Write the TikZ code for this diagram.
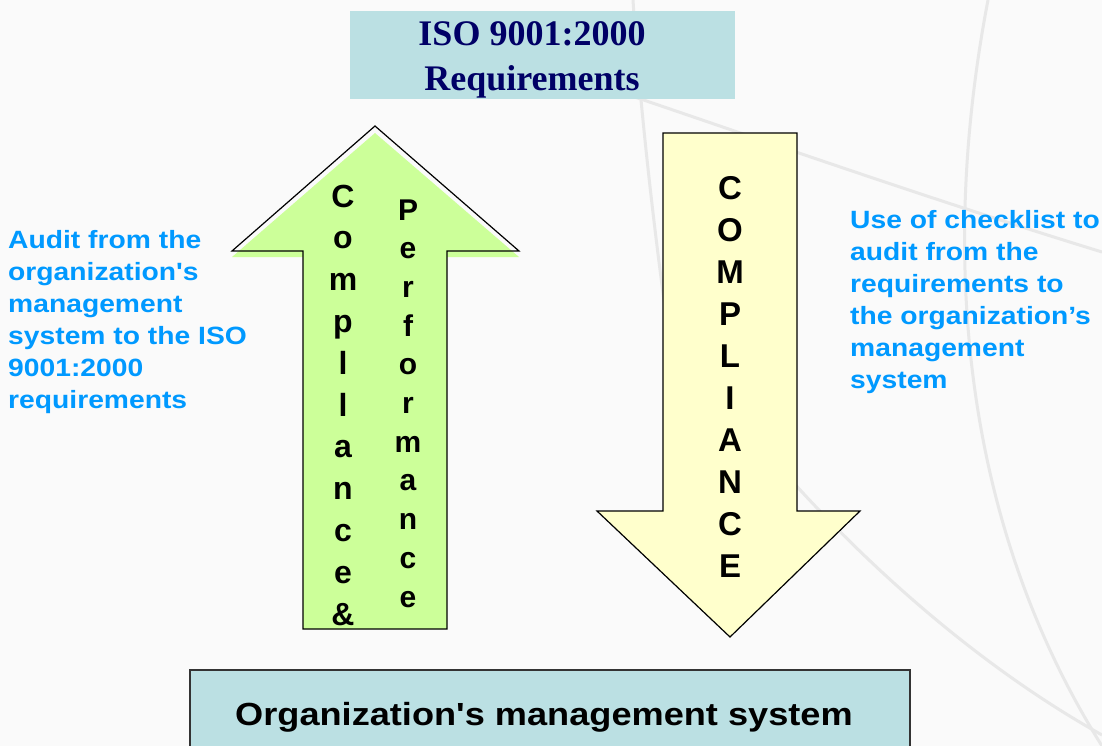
\documentclass[tikz,border=0pt]{standalone}
\usepackage{fontspec}
\setmainfont{Liberation Serif}
\setsansfont{Liberation Sans}
\usepackage{tikz}
\definecolor{bgcol}{HTML}{FAFAFA}
\definecolor{swirl}{HTML}{E8E8E8}
\definecolor{boxcyan}{HTML}{BBE0E3}
\definecolor{navy}{HTML}{000066}
\definecolor{skyblue}{HTML}{0099FF}
\definecolor{lime}{HTML}{CCFF99}
\definecolor{cream}{HTML}{FFFFCC}

\begin{document}
\begin{tikzpicture}[x = 1pt, y = -1pt,
                    note/.style = {align=left, anchor=base west, inner sep=0, xscale=1.13,
                                   text=skyblue, font=\sffamily\bfseries\fontsize{25}{32}\selectfont},
                    letters/.style = {align=center, anchor=base, inner sep=0,
                                      font=\sffamily\bfseries\fontsize{32}{41.8}\selectfont}]

\useasboundingbox (0,0) rectangle (1102,746);
\fill [bgcol] (0,0) rectangle (1102,746);

%background swirls
\draw [swirl, line width=3] (633,0) .. controls (638,80) and (650,200) .. (668,330);
\draw [swirl, line width=3] (560,72) .. controls (700,118) and (900,190) .. (1102,252);
\draw [swirl, line width=3] (988,0) .. controls (940,250) and (960,520) .. (1102,746);
\draw [swirl, line width=3] (740,420) .. controls (820,520) and (950,650) .. (1102,735);

%top box
\fill [boxcyan] (350,11) rectangle (735,99);
\node [align=center, inner sep=0, text=navy, font=\rmfamily\bfseries\fontsize{36}{45}\selectfont]
      (req) at (532,59.5) {ISO 9001:2000\\Requirements};

%up arrow
\fill [lime] (303,629) -- (303,257) -- (232,257) -- (375,133)
          -- (519,257) -- (447,257) -- (447,629) -- cycle;
\draw [black, line width=1.2] (303,629) -- (303,251) -- (232,251) -- (375,126)
          -- (519,251) -- (447,251) -- (447,629) -- cycle;
%last line is the base
\node [letters] (comp) at (343,625) {C\\o\\m\\p\\l\\l\\a\\n\\c\\e\\\&};
\node [letters, font=\sffamily\bfseries\fontsize{30}{38.7}\selectfont]
      (perf) at (408,607) {P\\e\\r\\f\\o\\r\\m\\a\\n\\c\\e};

%down arrow
\filldraw [fill=cream, draw=black, line width=1.2] (663,133) -- (797,133) -- (797,511) -- (860,511)
          -- (730,637) -- (597,511) -- (663,511) -- cycle;
\node [letters, font=\sffamily\bfseries\fontsize{33}{41.9}\selectfont]
      (compl) at (730,577) {C\\O\\M\\P\\L\\I\\A\\N\\C\\E};

%side notes
\node [note] (left) at (8,408) {Audit from the\\organization\textquotesingle s\\management\\system to the ISO\\9001:2000\\requirements};
\node [note] (right) at (850,388) {Use of checklist to\\audit from the\\requirements to\\the organization’s\\management\\system};

%bottom box
\filldraw [fill=boxcyan, draw=black!80, line width=1.2] (190,670) rectangle (910,750);
\node [anchor=base west, inner sep=0, xscale=1.13, font=\sffamily\bfseries\fontsize{32}{38}\selectfont]
      (org) at (235,725) {Organization\textquotesingle s management system};

\end{tikzpicture}
\end{document}
